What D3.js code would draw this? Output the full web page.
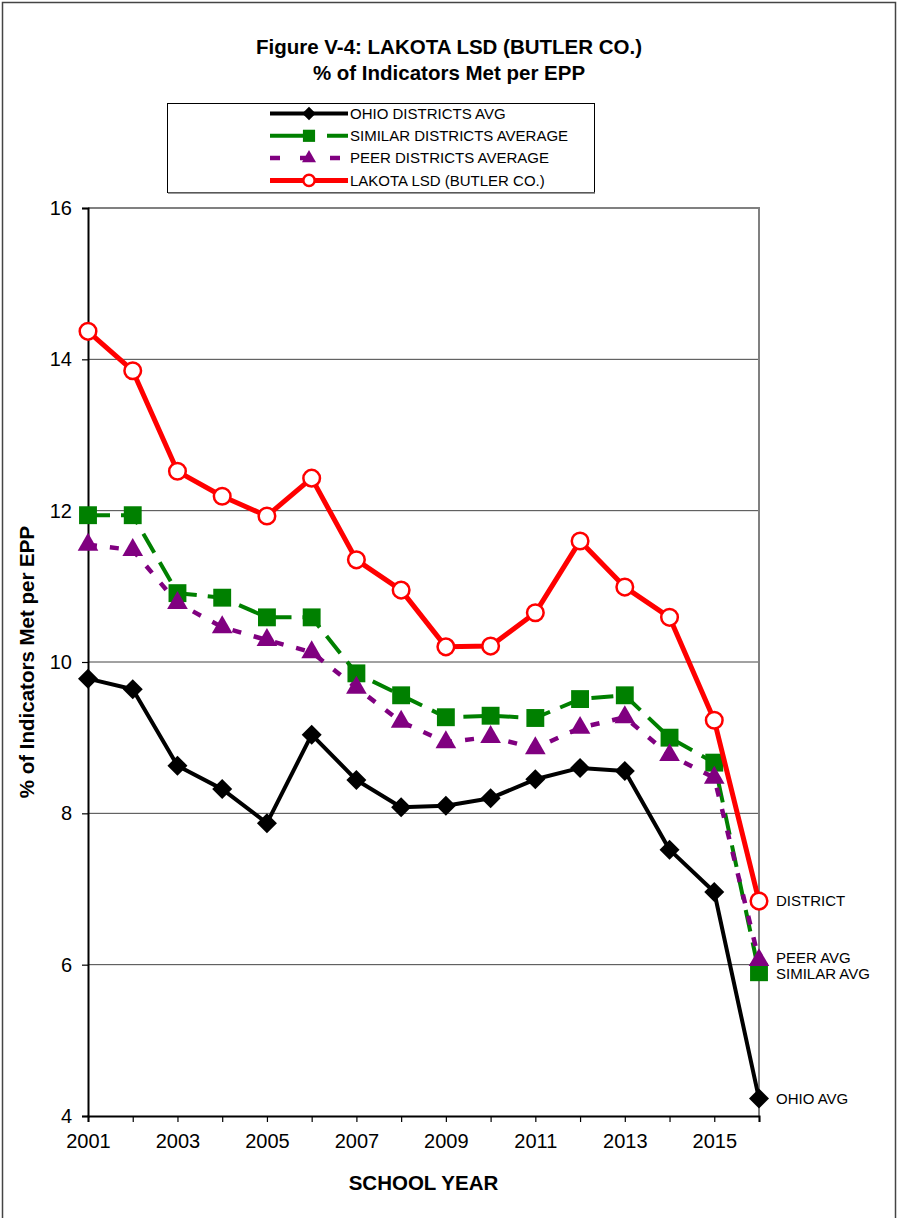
<!DOCTYPE html>
<html>
<head>
<meta charset="utf-8">
<script src="https://cdn.jsdelivr.net/npm/d3@7"></script>
<style>
  html, body { margin: 0; padding: 0; background: #fff; }
  svg { display: block; font-family: "Liberation Sans", Arial, sans-serif; }
</style>
</head>
<body>
<svg id="chart" width="898" height="1218"></svg>
<script>
const years = [2001, 2002, 2003, 2004, 2005, 2006, 2007, 2008, 2009, 2010, 2011, 2012, 2013, 2014, 2015, 2016];
const ohioAvg = [9.78, 9.64, 8.63, 8.32, 7.87, 9.04, 8.44, 8.08, 8.10, 8.20, 8.45, 8.60, 8.56, 7.52, 6.96, 4.23];
const similarAvg = [11.94, 11.94, 10.91, 10.85, 10.59, 10.59, 9.85, 9.56, 9.27, 9.29, 9.26, 9.51, 9.56, 9.00, 8.67, 5.90];
const peerAvg = [11.55, 11.48, 10.78, 10.46, 10.29, 10.13, 9.66, 9.21, 8.94, 9.01, 8.86, 9.13, 9.27, 8.77, 8.47, 6.06];
const district = [14.37, 13.85, 12.52, 12.19, 11.93, 12.43, 11.35, 10.95, 10.20, 10.21, 10.65, 11.60, 10.99, 10.59, 9.23, 6.84];
const yTicks = [4, 6, 8, 10, 12, 14, 16];
const xTickLabels = [2001, 2003, 2005, 2007, 2009, 2011, 2013, 2015];
const seriesNames = ["OHIO DISTRICTS AVG", "SIMILAR DISTRICTS AVERAGE", "PEER DISTRICTS AVERAGE", "LAKOTA LSD (BUTLER CO.)"];
const endLabels = ["OHIO AVG", "SIMILAR AVG", "PEER AVG", "DISTRICT"];
const titleLines = ["Figure V-4: LAKOTA LSD (BUTLER CO.)", "% of Indicators Met per EPP"];
const xTitle = "SCHOOL YEAR";
const yTitle = "% of Indicators Met per EPP";

const styles = [
  {color: "#000000", width: 4, dash: null, legendDash: null, marker: "diamond"},
  {color: "#008000", width: 4, dash: "22,11", legendDash: "40,17,40", marker: "square"},
  {color: "#800080", width: 4.5, dash: "9,13", legendDash: "10,20", marker: "triangle"},
  {color: "#ff0000", width: 5, dash: null, legendDash: null, marker: "circle"}
];
const allSeries = [ohioAvg, similarAvg, peerAvg, district];
const labelNudge = [0, 2, -2, 0];

const svg = d3.select("#chart");
const pLeft = 88, pRight = 759, pTop = 208, pBottom = 1116;

const x = d3.scaleLinear().domain([2001, 2016]).range([pLeft, pRight]);
const y = d3.scaleLinear().domain([4, 16]).range([pBottom, pTop]);

// outer frame
svg.append("rect").attr("x", 2.5).attr("y", 2.5).attr("width", 893).attr("height", 1230)
  .attr("fill", "none").attr("stroke", "#444").attr("stroke-width", 1.5);

// title
svg.selectAll("text.title").data(titleLines).enter().append("text")
  .attr("x", 449).attr("y", (d, i) => 54 + i * 26)
  .attr("text-anchor", "middle").attr("font-weight", "bold").attr("font-size", 20.5)
  .text(d => d);

// gridlines
svg.append("g").selectAll("line").data(yTicks.filter(t => t > 4 && t < 16)).enter().append("line")
  .attr("x1", pLeft).attr("x2", pRight).attr("y1", d => y(d)).attr("y2", d => y(d))
  .attr("stroke", "#444").attr("stroke-width", 1);
// plot border top/right
svg.append("path").attr("d", `M${pLeft},${pTop}H${pRight}V${pBottom}`)
  .attr("fill", "none").attr("stroke", "#808080").attr("stroke-width", 2);

// y axis
const yAxis = d3.axisLeft(y).tickValues(yTicks).tickSize(6).tickPadding(10).tickFormat(d3.format("d"));
const gy = svg.append("g").attr("transform", `translate(${pLeft},0)`).call(yAxis);
gy.select(".domain").attr("stroke", "#000").attr("stroke-width", 2);
gy.selectAll(".tick line").attr("stroke", "#000").attr("stroke-width", 1.2);
gy.selectAll(".tick text").attr("font-size", 20).attr("fill", "#000")
  .attr("font-family", "'Liberation Sans', Arial, sans-serif");

// x axis
const xAxis = d3.axisBottom(x).tickValues(years).tickSize(6).tickPadding(12)
  .tickFormat(d => xTickLabels.includes(d) ? String(d) : "");
const gx = svg.append("g").attr("transform", `translate(0,${pBottom})`).call(xAxis);
gx.select(".domain").attr("stroke", "#000").attr("stroke-width", 2);
gx.selectAll(".tick line").attr("stroke", "#000").attr("stroke-width", 1.2);
gx.selectAll(".tick text").attr("font-size", 20).attr("fill", "#000")
  .attr("font-family", "'Liberation Sans', Arial, sans-serif");

// axis titles
svg.append("text").attr("x", (pLeft + pRight) / 2).attr("y", 1190).attr("text-anchor", "middle")
  .attr("font-weight", "bold").attr("font-size", 20.5).text(xTitle);
svg.append("text").attr("transform", `translate(34,${(pTop + pBottom) / 2}) rotate(-90)`)
  .attr("text-anchor", "middle").attr("font-weight", "bold").attr("font-size", 20.5).text(yTitle);

function markerPath(type, scale) {
  const s = scale || 1;
  if (type === "diamond") return d3.symbol(d3.symbolSquare, 200 * s * s)();
  if (type === "square") return d3.symbol(d3.symbolSquare, 320 * s * s)();
  if (type === "triangle") return d3.symbol(d3.symbolTriangle, 185 * s * s)();
  return null;
}
function drawMarker(g, type, cx, cy, st, scale) {
  const s = scale || 1;
  if (type === "circle") {
    g.append("circle").attr("cx", cx).attr("cy", cy).attr("r", 8.3 * s)
      .attr("fill", "#fff").attr("stroke", st.color).attr("stroke-width", 2.5);
  } else {
    const p = g.append("path").attr("d", markerPath(type, s)).attr("fill", st.color);
    if (type === "diamond") p.attr("transform", `translate(${cx},${cy}) rotate(45)`);
    else p.attr("transform", `translate(${cx},${cy})`);
  }
}

const line = d3.line().x((d, i) => x(years[i])).y(d => y(d));

allSeries.forEach((vals, si) => {
  const st = styles[si];
  const g = svg.append("g");
  const path = g.append("path").datum(vals).attr("d", line)
    .attr("fill", "none").attr("stroke", st.color).attr("stroke-width", st.width)
    .attr("stroke-linejoin", "round");
  if (st.dash) path.attr("stroke-dasharray", st.dash);
  vals.forEach((v, i) => drawMarker(g, st.marker, x(years[i]), y(v), st, 1));
});

// end labels
allSeries.forEach((vals, si) => {
  svg.append("text").attr("x", x(2016) + 17).attr("y", y(vals[vals.length - 1]) + labelNudge[si])
    .attr("dy", "0.35em").attr("font-size", 15).text(endLabels[si]);
});

// legend
const lg = svg.append("g");
lg.append("rect").attr("x", 167.5).attr("y", 103.5).attr("width", 427).attr("height", 89)
  .attr("fill", "#fff").attr("stroke", "#000").attr("stroke-width", 1);
lg.append("line").attr("x1", 168).attr("x2", 595).attr("y1", 193).attr("y2", 193)
  .attr("stroke", "#777").attr("stroke-width", 1.5);
seriesNames.forEach((name, si) => {
  const st = styles[si];
  const cy = 113.5 + si * 22.3;
  const l = lg.append("line").attr("x1", 270).attr("x2", 348).attr("y1", cy).attr("y2", cy)
    .attr("stroke", st.color).attr("stroke-width", st.width);
  if (st.legendDash) l.attr("stroke-dasharray", st.legendDash);
  drawMarker(lg, st.marker, 309, cy, st, 0.68);
  lg.append("text").attr("x", 350).attr("y", cy).attr("dy", "0.35em").attr("font-size", 15).text(name);
});
</script>
</body>
</html>
